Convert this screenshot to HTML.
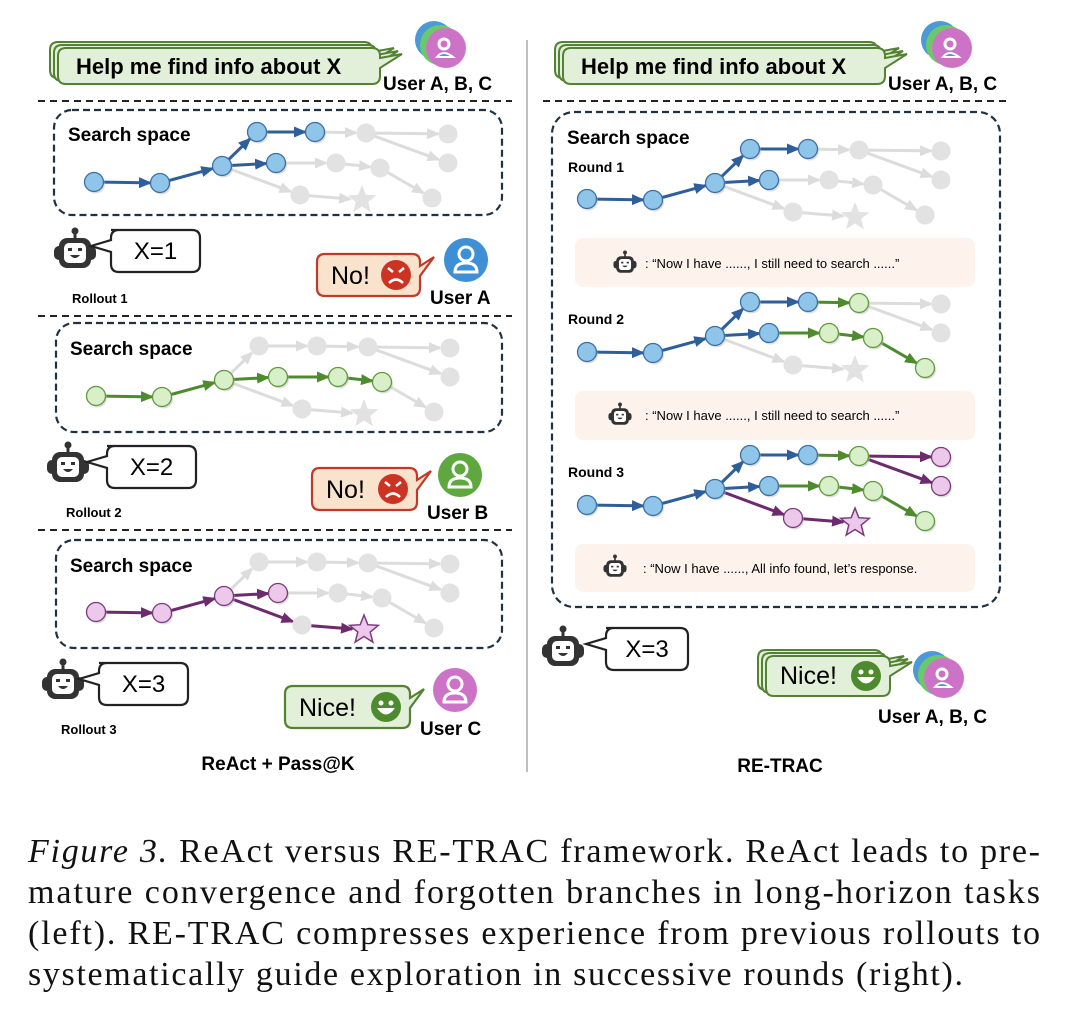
<!DOCTYPE html>
<html><head><meta charset="utf-8"><style>
html,body{margin:0;padding:0;background:#fff;}
svg{display:block;}
.b{font-family:"Liberation Sans",sans-serif;font-weight:bold;fill:#000;}
.r{font-family:"Liberation Sans",sans-serif;fill:#000;}
.cap{font-family:"Liberation Serif","Times New Roman",serif;font-size:34px;fill:#111;}
</style></head><body>
<svg id="fig" width="1084" height="1036" viewBox="0 0 1084 1036" xmlns="http://www.w3.org/2000/svg">
<defs>
<marker id="ah-blue" markerWidth="13" markerHeight="11" refX="11" refY="5.5" orient="auto" markerUnits="userSpaceOnUse"><path d="M0,0 L13,5.5 L0,11z" fill="#2f5f9a"/></marker>
<marker id="ah-green" markerWidth="13" markerHeight="11" refX="11" refY="5.5" orient="auto" markerUnits="userSpaceOnUse"><path d="M0,0 L13,5.5 L0,11z" fill="#4e8a2e"/></marker>
<marker id="ah-purple" markerWidth="13" markerHeight="11" refX="11" refY="5.5" orient="auto" markerUnits="userSpaceOnUse"><path d="M0,0 L13,5.5 L0,11z" fill="#6e2a6e"/></marker>
<marker id="ah-gray" markerWidth="13" markerHeight="11" refX="11" refY="5.5" orient="auto" markerUnits="userSpaceOnUse"><path d="M0,0 L13,5.5 L0,11z" fill="#dcdcdc"/></marker>
</defs>
<line x1="527" y1="40" x2="527" y2="772" stroke="#aaa" stroke-width="1.5"/>
<g stroke="#222" stroke-width="2" stroke-dasharray="7,5">
<line x1="38" y1="101" x2="512" y2="101"/>
<line x1="38" y1="316" x2="512" y2="316"/>
<line x1="38" y1="530" x2="512" y2="530"/>
<line x1="543" y1="101" x2="1010" y2="101"/>
</g>
<g fill="none" stroke="#1f3244" stroke-width="2.2" stroke-dasharray="7,4">
<rect x="54" y="110" width="448" height="105" rx="18"/>
<rect x="56" y="323" width="446" height="109" rx="18"/>
<rect x="56" y="540" width="446" height="108" rx="18"/>
<rect x="552" y="112" width="448" height="495" rx="22"/>
</g>
<g fill="#fdf3ec">
<rect x="575" y="238" width="400" height="49" rx="8"/>
<rect x="575" y="391" width="400" height="49" rx="8"/>
<rect x="575" y="544" width="400" height="48" rx="8"/>
</g>
<g id="graphs"></g>
<g id="icons"></g>
<text class="b" x="68" y="141" font-size="19">Search space</text>
<text class="b" x="70" y="355" font-size="19">Search space</text>
<text class="b" x="70" y="572" font-size="19">Search space</text>
<text class="b" x="567" y="144" font-size="19">Search space</text>
<text class="b" x="568" y="172" font-size="14">Round 1</text>
<text class="b" x="568" y="324" font-size="14">Round 2</text>
<text class="b" x="568" y="477" font-size="14">Round 3</text>
<text class="r" x="645" y="268" font-size="13">:  “Now I have ......,  I still need to search ......”</text>
<text class="r" x="645" y="420" font-size="13">:  “Now I have ......,  I still need to search ......”</text>
<text class="r" x="643" y="573" font-size="13">:  “Now I have ......,  All info found, let’s response.</text>
<text class="b" x="72" y="303" font-size="13">Rollout 1</text>
<text class="b" x="66" y="517" font-size="13">Rollout 2</text>
<text class="b" x="61" y="734" font-size="13">Rollout 3</text>
<text class="b" x="430" y="304" font-size="19">User A</text>
<text class="b" x="427" y="519" font-size="19">User B</text>
<text class="b" x="420" y="735" font-size="19">User C</text>
<text class="b" x="383" y="90" font-size="19">User A, B, C</text>
<text class="b" x="888" y="90" font-size="19">User A, B, C</text>
<text class="b" x="878" y="723" font-size="19">User A, B, C</text>
<text class="b" x="278" y="770" font-size="19" text-anchor="middle">ReAct + Pass@K</text>
<text class="b" x="780" y="772" font-size="19" text-anchor="middle">RE-TRAC</text>
<g>
<text class="cap" x="28" y="862" textLength="1012" lengthAdjust="spacing"><tspan font-style="italic">Figure 3.</tspan> ReAct versus RE-TRAC framework. ReAct leads to pre-</text>
<text class="cap" x="28" y="903" textLength="1012" lengthAdjust="spacing">mature convergence and forgotten branches in long-horizon tasks</text>
<text class="cap" x="28" y="944" textLength="1012" lengthAdjust="spacing">(left). RE-TRAC compresses experience from previous rollouts to</text>
<text class="cap" x="28" y="985" textLength="935" lengthAdjust="spacing">systematically guide exploration in successive rounds (right).</text>
</g>
</svg>
<script>
const nodeX = [94,160,222,257,315,276,366,448,336,380,448,300,362,432];
const nodeY = [182,183,166,132,132,163,133,134,163,168,163,195,200,198];
const edgeFrom = [0,1,2,3,2,4,6,6,5,8,9,2,11];
const edgeTo   = [1,2,3,4,5,6,7,10,8,9,13,11,12];
const starNode = 12;
const scenes = [
 {name:'rollout-1-graph', dx:0, dy:0,
  e:['b','b','b','b','b','g0','g0','g0','g0','g0','g0','g0','g0'],
  n:['b','b','b','b','b','b','g0','g0','g0','g0','g0','g0','g0','g0']},
 {name:'rollout-2-graph', dx:2, dy:214,
  e:['g','g','g0','g0','g','g0','g0','g0','g','g','g0','g0','g0'],
  n:['g','g','g','g0','g0','g','g0','g0','g','g','g0','g0','g0','g0']},
 {name:'rollout-3-graph', dx:2, dy:430,
  e:['p','p','g0','g0','p','g0','g0','g0','g0','g0','g0','p','p'],
  n:['p','p','p','g0','g0','p','g0','g0','g0','g0','g0','g0','p','g0']},
 {name:'round-1-graph', dx:493, dy:17,
  e:['b','b','b','b','b','g0','g0','g0','g0','g0','g0','g0','g0'],
  n:['b','b','b','b','b','b','g0','g0','g0','g0','g0','g0','g0','g0']},
 {name:'round-2-graph', dx:493, dy:170,
  e:['b','b','b','b','b','g','g0','g0','g','g','g','g0','g0'],
  n:['b','b','b','b','b','b','g','g0','g','g','g0','g0','g0','g']},
 {name:'round-3-graph', dx:493, dy:323,
  e:['b','b','b','b','b','g','p','p','g','g','g','p','p'],
  n:['b','b','b','b','b','b','g','p','g','g','p','p','p','g']}
];
const NS='http://www.w3.org/2000/svg';
const col = {b:['#8ec5e8','#3b6fa8','#2f5f9a','blue'], g:['#d8efc9','#5f9a3c','#4e8a2e','green'], p:['#ecc8ea','#7b3a7b','#6e2a6e','purple'], g0:['#e2e2e2','#e2e2e2','#dcdcdc','gray']};
function mk(tag, attrs, parent){const el=document.createElementNS(NS,tag);for(const k in attrs)el.setAttribute(k,attrs[k]);parent.appendChild(el);return el;}
const G=document.getElementById('graphs');
scenes.forEach(s=>{
  const g=mk('g',{},G);
  
  
  const px=i=>nodeX[i]+s.dx, py=i=>nodeY[i]+s.dy;
  const order=[...edgeFrom.keys()].sort((a,b)=>(s.e[a]==='g0'?0:1)-(s.e[b]==='g0'?0:1));
  order.forEach(k=>{
    const a=edgeFrom[k], b=edgeTo[k], c=col[s.e[k]];
    const x1=px(a),y1=py(a),x2=px(b),y2=py(b);
    const L=Math.hypot(x2-x1,y2-y1), r=(b===starNode?12:10);
    const ex=x2-(x2-x1)*r/L, ey=y2-(y2-y1)*r/L;
    const ln=mk('line',{x1:x1,y1:y1,x2:ex,y2:ey,stroke:c[2],'stroke-width':3,'marker-end':'url(#ah-'+c[3]+')'},g);
    
    
  });
  nodeX.forEach((_,i)=>{
    const c=col[s.n[i]], x=px(i), y=py(i);
    let el;
    if(i===starNode){
      let pts=[];for(let j=0;j<10;j++){const rr=j%2?6.5:15, an=-Math.PI/2+j*Math.PI/5;pts.push((x+rr*Math.cos(an)).toFixed(1)+','+(y+rr*Math.sin(an)).toFixed(1));}
      el=mk('polygon',{points:pts.join(' '),fill:c[0],stroke:s.n[i]==='g0'?'none':c[1],'stroke-width':1.5},g);
      
    } else {
      if(s.n[i]!=='g0') mk('circle',{cx:x+1.5,cy:y+2,r:9.5,fill:'#bbb',opacity:0.5},g);
      el=mk('circle',{cx:x,cy:y,r:9.5,fill:c[0],stroke:s.n[i]==='g0'?'none':c[1],'stroke-width':1.3},g);
      
    }
    
  });
});
const I=document.getElementById('icons');
function robot(cx,cy,sc,name){
  const g=mk('g',{transform:`translate(${cx},${cy}) scale(${sc})`},I);
  
  
  mk('line',{x1:0,y1:-20,x2:0,y2:-13,stroke:'#333','stroke-width':3},g);
  mk('circle',{cx:0,cy:-21,r:3.5,fill:'#333'},g);
  mk('rect',{x:-21,y:-6,width:42,height:14,rx:5,fill:'#333'},g);
  mk('rect',{x:-16,y:-14,width:32,height:30,rx:8,fill:'#333'},g);
  mk('rect',{x:-11,y:-9,width:22,height:20,rx:5,fill:'#fff'},g);
  mk('rect',{x:-7,y:-4,width:4,height:3,fill:'#333'},g);
  mk('rect',{x:3,y:-4,width:4,height:3,fill:'#333'},g);
  mk('path',{d:'M-5,3 Q0,9 5,3 Z',fill:'#333'},g);
}
function bubble(x,y,w,h,txt,name){
  const g=mk('g',{},I);
  
  
  mk('path',{d:`M${x+8},${y} H${x+w-8} Q${x+w},${y} ${x+w},${y+8} V${y+h-8} Q${x+w},${y+h} ${x+w-8},${y+h} H${x+16} Q${x+8},${y+h} ${x+8},${y+h-8} V${y+22} L${x-12},${y+16} L${x+8},${y+10} V${y+8} Q${x+8},${y} ${x+16},${y} Z`,fill:'#fff',stroke:'#222','stroke-width':2.2},g);
  const t=mk('text',{x:x+8+(w-8)/2,y:y+h/2+8,'font-size':24,'text-anchor':'middle','class':'r'},g);t.textContent=txt;
}
function face(cx,cy,r,fill,happy,parent){
  mk('circle',{cx:cx,cy:cy,r:r,fill:fill},parent);
  if(happy){
    mk('circle',{cx:cx-5,cy:cy-4,r:2.5,fill:'#fff'},parent);mk('circle',{cx:cx+5,cy:cy-4,r:2.5,fill:'#fff'},parent);
    mk('path',{d:`M${cx-9},${cy+1} Q${cx},${cy+14} ${cx+9},${cy+1} Z`,fill:'#fff'},parent);
  } else {
    mk('path',{d:`M${cx-8},${cy-7} L${cx-3},${cy-3} M${cx+8},${cy-7} L${cx+3},${cy-3}`,stroke:'#fff','stroke-width':2.5},parent);
    mk('path',{d:`M${cx-7},${cy+8} Q${cx},${cy+1} ${cx+7},${cy+8}`,stroke:'#fff','stroke-width':2.5,fill:'none'},parent);
  }
}
function reply(x,y,w,h,txt,fill,stroke,faceFill,happy,name){
  const g=mk('g',{},I);
  
  
  mk('path',{d:`M${x+8},${y} H${x+w-8} Q${x+w},${y} ${x+w},${y+8} V${y+12} L${x+w+14},${y+3} L${x+w},${y+22} V${y+h-8} Q${x+w},${y+h} ${x+w-8},${y+h} H${x+8} Q${x},${y+h} ${x},${y+h-8} V${y+8} Q${x},${y} ${x+8},${y} Z`,fill:fill,stroke:stroke,'stroke-width':2.2},g);
  const t=mk('text',{x:x+14,y:y+h/2+9,'font-size':25,'class':'r'},g);t.textContent=txt;
  face(x+w-24,y+h/2,15,faceFill,happy,g);
}
function user(cx,cy,fill,name){
  const g=mk('g',{},I);
  
  
  mk('circle',{cx:cx,cy:cy,r:22,fill:fill},g);
  mk('circle',{cx:cx,cy:cy-6,r:7,fill:'none',stroke:'#fff','stroke-width':3},g);
  mk('path',{d:`M${cx-11},${cy+12} Q${cx-11},${cy+3} ${cx},${cy+3} Q${cx+11},${cy+3} ${cx+11},${cy+12} Z`,fill:'none',stroke:'#fff','stroke-width':3},g);
}
function stackAvatar(cx,cy,name){
  const g=mk('g',{},I);
  
  
  mk('circle',{cx:cx-12,cy:cy-8,r:19,fill:'#4a9ad8'},g);
  mk('circle',{cx:cx-6,cy:cy-3,r:20,fill:'#6cc86a'},g);
  mk('circle',{cx:cx,cy:cy,r:20,fill:'#cc73c8'},g);
  mk('circle',{cx:cx-2,cy:cy-4,r:5,fill:'none',stroke:'#fff','stroke-width':3},g);
  mk('path',{d:`M${cx-9},${cy+9} Q${cx-3},${cy+1} ${cx+7},${cy+9} Z`,fill:'#4a9ad8',stroke:'#fff','stroke-width':2},g);
}
function stackBubble(x,y,w,h,name,txt,fs,withFace){
  const g=mk('g',{},I);
  
  
  for(let k=2;k>=0;k--){
    const ox=x-k*4, oy=y-k*3;
    mk('path',{d:`M${ox+8},${oy} H${ox+w-8} Q${ox+w},${oy} ${ox+w},${oy+8} V${oy+10} L${ox+w+22},${oy+6} L${ox+w},${oy+20} V${oy+h-8} Q${ox+w},${oy+h} ${ox+w-8},${oy+h} H${ox+8} Q${ox},${oy+h} ${ox},${oy+h-8} V${oy+8} Q${ox},${oy} ${ox+8},${oy} Z`,fill:'#e2f0d9',stroke:'#548235','stroke-width':2},g);
  }
  const t=mk('text',{x:x+(withFace?14:18),y:y+h/2+8,'font-size':fs,'class':withFace?'r':'b'},g);t.textContent=txt;
  if(withFace) face(x+w-24,y+h/2,15,'#4e8a2e',true,g);
}
stackBubble(58,48,322,36,'request-bubble-left','Help me find info about X',22,false);
stackBubble(563,48,322,36,'request-bubble-right','Help me find info about X',22,false);
stackAvatar(446,48,'users-avatar-left');
stackAvatar(952,48,'users-avatar-right');
robot(75,252,1,'agent-icon-1');bubble(103,230,97,42,'X=1','answer-bubble-1');
robot(68,466,1,'agent-icon-2');bubble(99,446,97,42,'X=2','answer-bubble-2');
robot(63,683,1,'agent-icon-3');bubble(91,663,97,42,'X=3','answer-bubble-3');
robot(563,650,1,'agent-icon-final');bubble(598,628,90,42,'X=3','answer-bubble-final');
reply(317,254,103,42,'No!','#f9e3cc','#c0392b','#cc3322',false,'reply-no-a');
user(466,260,'#3e8fd6','user-a-avatar');
reply(312,468,105,42,'No!','#f9e3cc','#c0392b','#cc3322',false,'reply-no-b');
user(460,475,'#5fa83f','user-b-avatar');
reply(285,686,125,42,'Nice!','#e2f0d9','#548235','#4e8a2e',true,'reply-nice-c');
user(455,690,'#cc73c8','user-c-avatar');
stackBubble(766,656,124,40,'reply-nice-all','Nice!',25,true);
stackAvatar(944,678,'users-avatar-bottom');
robot(625,264,0.55,'thought-agent-1');
robot(620,416,0.55,'thought-agent-2');
robot(615,568,0.55,'thought-agent-3');
</script>
</body></html>
